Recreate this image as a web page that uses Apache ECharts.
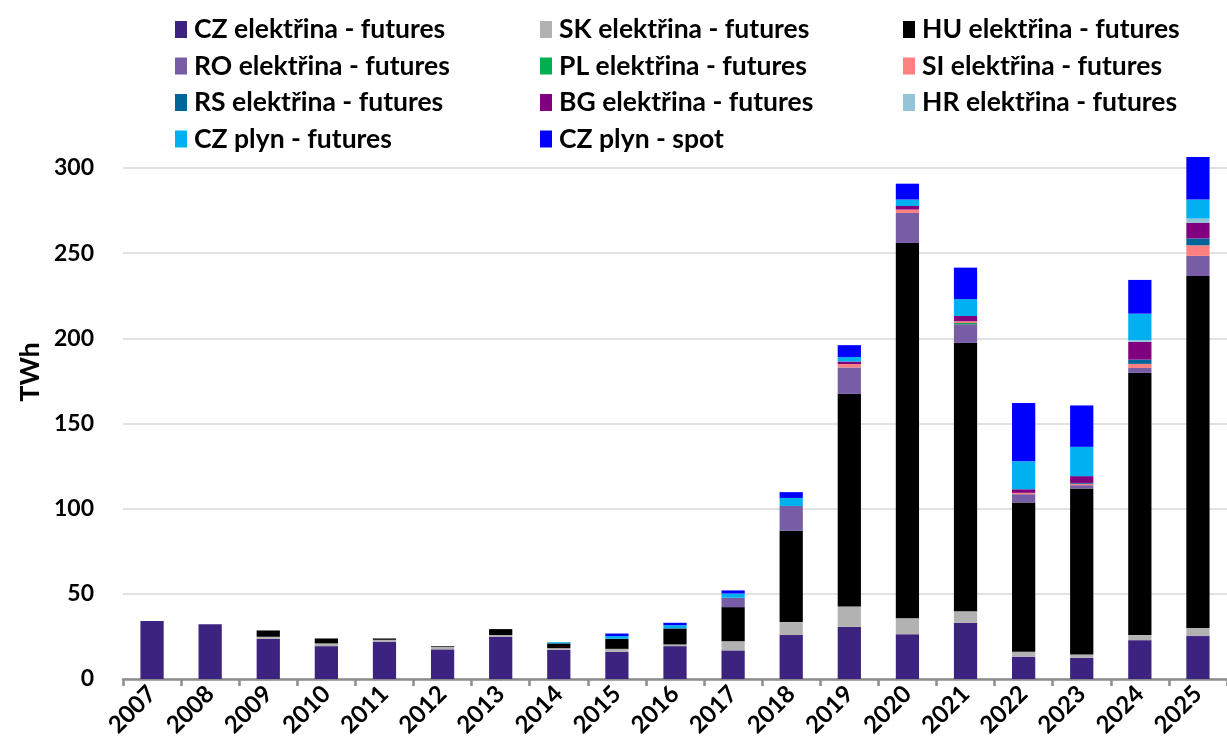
<!DOCTYPE html>
<html>
<head>
<meta charset="utf-8">
<script src="https://cdn.jsdelivr.net/npm/echarts@6/dist/echarts.min.js"></script>
<style>
html,body{margin:0;padding:0;background:#fff;}
#chart{width:1227px;height:742px;}
</style>
</head>
<body>
<div id="chart"></div>
<script>
const years = ['2007','2008','2009','2010','2011','2012','2013','2014','2015','2016','2017','2018','2019','2020','2021','2022','2023','2024','2025'];
const yTicks = [0, 50, 100, 150, 200, 250, 300];

const czEl  = [34.0, 32.2, 23.6, 19.3, 21.8, 17.4, 24.8, 17.1, 16.0, 19.3, 16.8, 25.8, 30.6, 26.3, 33.0, 13.0, 12.4, 22.8, 25.2];
const skEl  = [0, 0, 1.2, 1.6, 1.2, 1.5, 1.0, 1.0, 1.7, 1.0, 5.4, 7.6, 12.0, 9.3, 6.8, 3.0, 2.0, 3.0, 4.8];
const huEl  = [0, 0, 3.7, 2.9, 0.8, 0.4, 3.5, 2.8, 5.9, 9.4, 20.0, 53.6, 124.8, 220.4, 157.5, 87.6, 97.5, 153.9, 206.6];
const roEl  = [0, 0, 0, 0, 0, 0, 0, 0, 0, 0, 5.5, 14.6, 15.5, 17.6, 11.0, 4.9, 1.9, 2.9, 11.8];
const plEl  = [0, 0, 0, 0, 0, 0, 0, 0, 0, 0, 0, 0, 0, 0, 0.7, 0, 0, 0, 0];
const siEl  = [0, 0, 0, 0, 0, 0, 0, 0, 0, 0, 0, 0, 2.0, 2.0, 1.0, 0.8, 0.8, 2.4, 6.2];
const rsEl  = [0, 0, 0, 0, 0, 0, 0, 0, 0, 0, 0, 0, 0, 0, 0, 0, 0.5, 2.5, 4.0];
const bgEl  = [0, 0, 0, 0, 0, 0, 0, 0, 0, 0, 0, 0, 1.5, 2.1, 3.1, 2.1, 4.0, 10.4, 9.1];
const hrEl  = [0, 0, 0, 0, 0, 0, 0, 0, 0, 0, 0, 0, 0, 0, 0, 0, 0, 1.0, 2.6];
const czGasFut  = [0, 0, 0, 0, 0, 0, 0, 0.7, 1.6, 1.9, 2.5, 4.7, 2.6, 3.8, 9.9, 16.4, 17.2, 15.6, 11.2];
const czGasSpot = [0, 0, 0, 0, 0, 0, 0, 0, 1.5, 1.4, 1.8, 3.4, 7.0, 9.3, 18.5, 34.3, 24.3, 19.8, 25.0];

const seriesDefs = [
  ['CZ elektřina - futures', czEl, '#3D2380'],
  ['SK elektřina - futures', skEl, '#B2B2B2'],
  ['HU elektřina - futures', huEl, '#000000'],
  ['RO elektřina - futures', roEl, '#765DA6'],
  ['PL elektřina - futures', plEl, '#00B050'],
  ['SI elektřina - futures', siEl, '#FF8080'],
  ['RS elektřina - futures', rsEl, '#006699'],
  ['BG elektřina - futures', bgEl, '#800080'],
  ['HR elektřina - futures', hrEl, '#93C5D7'],
  ['CZ plyn - futures', czGasFut, '#00B0F0'],
  ['CZ plyn - spot', czGasSpot, '#0000FF']
];

const FONT = 'Lato';
const chart = echarts.init(document.getElementById('chart'), null, {renderer: 'canvas'});

function legendCol(names, left) {
  return {
    orient: 'vertical',
    left: left,
    top: 11,
    itemWidth: 12,
    itemHeight: 17,
    itemGap: 9.5,
    icon: 'rect',
    selectedMode: false,
    data: names,
    textStyle: {fontFamily: FONT, fontWeight: 'bold', fontSize: 26.5, color: '#000', lineHeight: 26, padding: [0, 0, 0, 2]}
  };
}

chart.setOption({
  animation: false,
  backgroundColor: '#fff',
  grid: {left: 123, top: 168, width: 1112, bottom: 63, containLabel: false},
  legend: [
    legendCol(['CZ elektřina - futures', 'RO elektřina - futures', 'RS elektřina - futures', 'CZ plyn - futures'], 170),
    legendCol(['SK elektřina - futures', 'PL elektřina - futures', 'BG elektřina - futures', 'CZ plyn - spot'], 535),
    legendCol(['HU elektřina - futures', 'SI elektřina - futures', 'HR elektřina - futures'], 898)
  ],
  graphic: [{
    type: 'text',
    x: 30, y: 372,
    rotation: Math.PI / 2,
    style: {text: 'TWh', fontFamily: FONT, fontWeight: 'bold', fontSize: 27, fill: '#000', align: 'center', verticalAlign: 'middle'}
  }],
  xAxis: {
    type: 'category',
    data: years,
    boundaryGap: true,
    axisLine: {show: true, lineStyle: {color: '#8C8C8C', width: 2.5}},
    axisTick: {show: true, length: 7, lineStyle: {color: '#8C8C8C', width: 2.5}},
    axisLabel: {rotate: 45, fontFamily: FONT, fontWeight: 'bold', fontSize: 24, color: '#000', margin: 11, interval: 0}
  },
  yAxis: {
    type: 'value',
    min: yTicks[0],
    max: yTicks[yTicks.length - 1],
    interval: 50,
    axisLine: {show: false},
    axisTick: {show: false},
    splitLine: {show: true, lineStyle: {color: '#D9D9D9', width: 1.5}},
    axisLabel: {fontFamily: FONT, fontWeight: 'bold', fontSize: 23, color: '#000', margin: 29}
  },
  series: seriesDefs.map(([name, data, color]) => ({
    name: name,
    type: 'bar',
    stack: 'total',
    data: data,
    barWidth: '40%',
    clip: false,
    itemStyle: {color: color},
    emphasis: {disabled: true}
  }))
});
</script>
</body>
</html>
